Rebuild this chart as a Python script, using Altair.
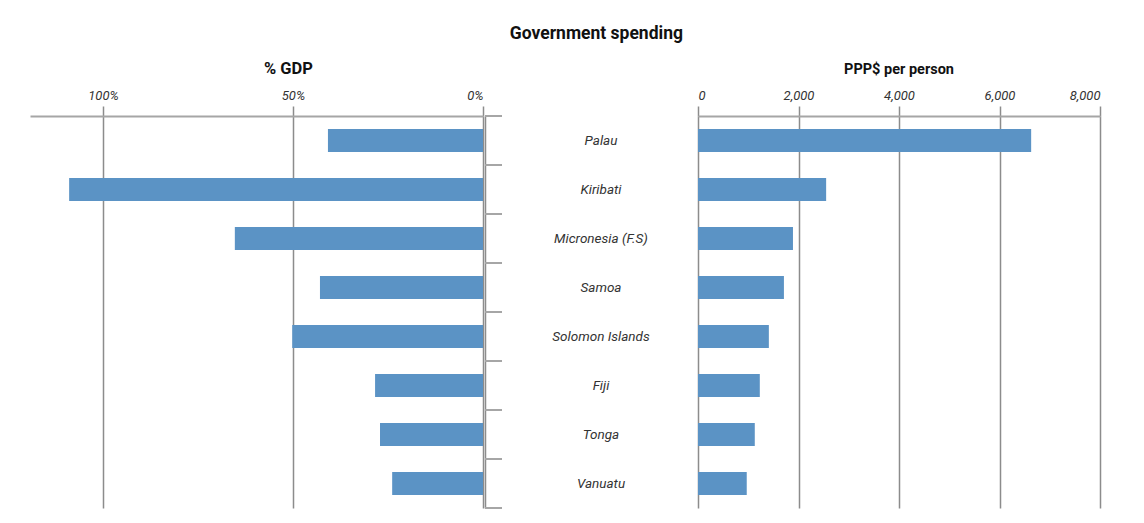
import altair as alt
import pandas as pd

countries = ["Palau", "Kiribati", "Micronesia (F.S)", "Samoa",
             "Solomon Islands", "Fiji", "Tonga", "Vanuatu"]
gdp_share = [40.8, 108.9, 65.3, 42.9, 50.2, 28.4, 27.1, 23.9]
ppp_per_person = [6630, 2550, 1890, 1710, 1410, 1230, 1130, 970]
gdp_ticks = [0, 50, 100]
ppp_ticks = [0, 2000, 4000, 6000, 8000]

df = pd.DataFrame({"country": countries, "gdp": gdp_share, "ppp": ppp_per_person})

FONT = "Roboto, sans-serif"
BLUE = "#5b93c5"
GRID = "#8c8c8c"
DOMAIN = "#a6a6a6"
H = 392

yband = alt.Scale(paddingInner=0.53, paddingOuter=0.265)

axis_common = dict(
    orient="top", title=None, grid=True, gridColor=GRID, gridWidth=1.5,
    domainColor=DOMAIN, domainWidth=2, tickColor=GRID, tickWidth=1.5, tickSize=10,
    labelPadding=4, labelFont=FONT, labelFontStyle="italic", labelFontSize=13,
    labelColor="#333333",
)

left = alt.Chart(df).mark_bar(color=BLUE).encode(
    x=alt.X("gdp:Q",
            scale=alt.Scale(domain=[0, 119.2], reverse=True, nice=False),
            axis=alt.Axis(values=gdp_ticks, labelExpr="datum.value + '%'", **axis_common)),
    y=alt.Y("country:N", sort=countries, scale=yband, axis=None),
).properties(
    width=453, height=H,
    title=alt.TitleParams("% GDP", dx=32, fontSize=16.5, font=FONT, fontWeight="bold",
                          offset=12, color="#111111"),
)

bscale = alt.Scale(paddingInner=0, paddingOuter=0)
mid_base = alt.Chart(df)
mid_text = mid_base.mark_text(font=FONT, fontStyle="italic", fontSize=13.5,
                              color="#333333").encode(
    y=alt.Y("country:N", sort=countries, scale=bscale,
            axis=alt.Axis(orient="left", labels=False, ticks=False, title=None,
                          domainColor=GRID, domainWidth=1.5, grid=False)),
    x=alt.value(116),
    text="country:N",
)
mid_ticks = mid_base.mark_rule(color=DOMAIN, strokeWidth=2).encode(
    y=alt.Y("country:N", sort=countries, scale=bscale, bandPosition=1),
    x=alt.value(0), x2=alt.value(17),
)
mid_axis = mid_base.mark_rule(color=DOMAIN, strokeWidth=2).encode(
    y=alt.value(0), x=alt.value(0), x2=alt.value(17),
)
mid = alt.layer(mid_text, mid_ticks, mid_axis).properties(width=212, height=H)

right = alt.Chart(df).mark_bar(color=BLUE).encode(
    x=alt.X("ppp:Q",
            scale=alt.Scale(domain=[0, 8000], nice=False),
            axis=alt.Axis(values=ppp_ticks, format=",.0f", **axis_common)),
    y=alt.Y("country:N", sort=countries, scale=yband, axis=None),
).properties(
    width=402, height=H,
    title=alt.TitleParams("PPP$ per person", fontSize=14.5, font=FONT, fontWeight="bold",
                          offset=12, color="#111111"),
)

chart = alt.hconcat(left, mid, right, spacing=0).resolve_scale(
    y="independent", x="independent"
).properties(
    title=alt.TitleParams("Government spending", anchor="middle", dx=31, fontSize=17.5,
                          font=FONT, fontWeight="bold", color="#111111", offset=18),
    padding={"left": 22, "top": 17, "right": 10, "bottom": 2},
).configure_view(strokeWidth=0)

chart.save("out.html", embed_options={"renderer": "svg", "actions": False})
